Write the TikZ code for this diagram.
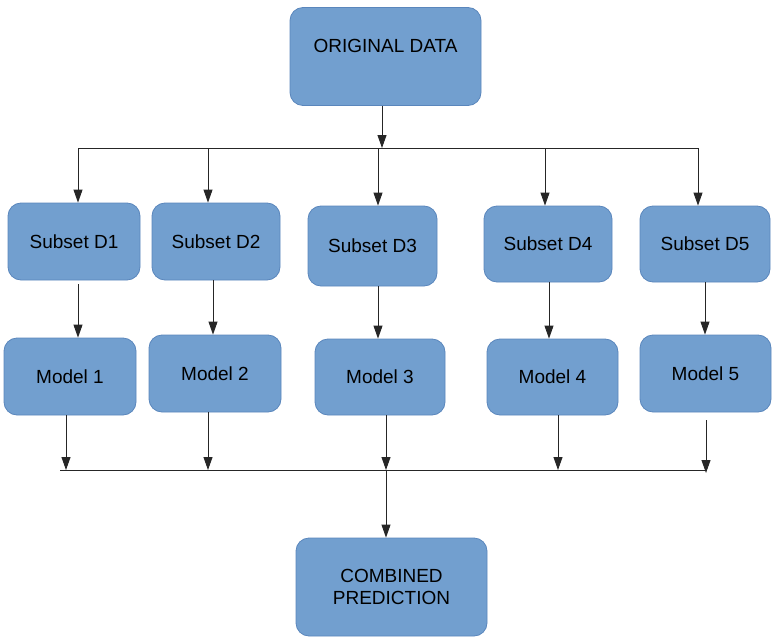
\documentclass[tikz,border=0pt]{standalone}
\usepackage{fontspec}
\setmainfont{Liberation Sans}
\usepackage{xcolor}
\definecolor{boxblue}{HTML}{729FCF}
\definecolor{boxedge}{HTML}{5A86BC}
\usepackage{tikz}
\usetikzlibrary{arrows.meta, positioning}

\begin{document}
\begin{tikzpicture}[
    x=1pt, y=-1pt,
    >={Triangle[length=13pt, width=9pt]},
    font=\fontsize{19}{21.5}\selectfont,
    box/.style={draw=boxedge, fill=boxblue, rectangle, rounded corners=13pt, inner sep=0pt, align=center, line width=0.8pt},
    bigbox/.style={box, minimum width=191pt, minimum height=98pt},
    subbox/.style={box, minimum width=130pt, minimum height=77pt},
    wire/.style={draw=black!85, line width=0.9pt}
  ]
  \useasboundingbox (0,0) rectangle (774,642);

  % Top: source data
  \node (orig) at (385.5, 56.5) [bigbox] {ORIGINAL DATA\\ \mbox{}};

  % Middle Row: Bootstrap subsets
  \node (d1) at (74, 241.5) [subbox, minimum width=132pt] {Subset D1};
  \node (d2) at (216, 241.5) [subbox, minimum width=128pt] {Subset D2};
  \node (d3) at (372.5, 246) [subbox, minimum width=129pt, minimum height=80pt] {Subset D3};
  \node (d4) at (548, 244) [subbox, minimum width=128pt, minimum height=76pt] {Subset D4};
  \node (d5) at (705, 244) [subbox, minimum height=76pt] {Subset D5};

  % Model Row
  \node (m1) at (70, 376.5) [subbox, minimum width=132pt] {Model 1};
  \node (m2) at (215, 373.5) [subbox, minimum width=132pt] {Model 2};
  \node (m3) at (380, 377) [subbox, minimum height=76pt] {Model 3};
  \node (m4) at (552.5, 377) [subbox, minimum width=131pt, minimum height=76pt] {Model 4};
  \node (m5) at (705.5, 373.5) [subbox, minimum width=131pt] {Model 5};

  % Bottom: aggregated output
  \node (comb) at (391.5, 587) [bigbox] {COMBINED\\PREDICTION};

  % Split & Join Points
  \coordinate (split) at (382, 148);
  \coordinate (t1) at (78, 148);
  \coordinate (t2) at (208, 148);
  \coordinate (t3) at (378, 148);
  \coordinate (t4) at (545, 148);
  \coordinate (t5) at (698, 148);
  \coordinate (busL) at (60, 470);
  \coordinate (b1) at (66, 470);
  \coordinate (b2) at (208, 470);
  \coordinate (join) at (386, 470);
  \coordinate (b4) at (558, 470);
  \coordinate (b5) at (706, 473);

  % Fan-out Edges
  \draw[wire, ->] (orig.south -| split) -- (split);
  \draw[wire] (t1) -- (t5);
  \foreach \i in {1,...,5}
    \draw[wire, ->] (t\i) -- (d\i.north -| t\i);

  % Subset to Model Edges
  \draw[wire, ->] ([xshift=4pt, yshift=-4pt]d1.south) -- ([xshift=8pt]m1.north);
  \draw[wire, ->] ([xshift=-3pt]d2.south) -- ([xshift=-2pt]m2.north);
  \draw[wire, ->] ([xshift=5.5pt]d3.south) -- ([xshift=-2pt]m3.north);
  \draw[wire, ->] ([xshift=1pt]d4.south) -- ([xshift=-3.5pt]m4.north);
  \draw[wire, ->] (d5.south) -- ([xshift=-0.5pt]m5.north);

  % Fan-in Edges
  \draw[wire] (busL) -- (b5 |- busL);
  \draw[wire, ->] (m1.south -| b1) -- (b1);
  \draw[wire, ->] (m2.south -| b2) -- (b2);
  \draw[wire, ->] (m3.south -| join) -- (join);
  \draw[wire, ->] (m4.south -| b4) -- (b4);
  \draw[wire, ->] ([yshift=-8pt]m5.south -| b5) -- (b5);
  \draw[wire, ->] (join) -- (comb.north -| join);

\end{tikzpicture}
\end{document}
